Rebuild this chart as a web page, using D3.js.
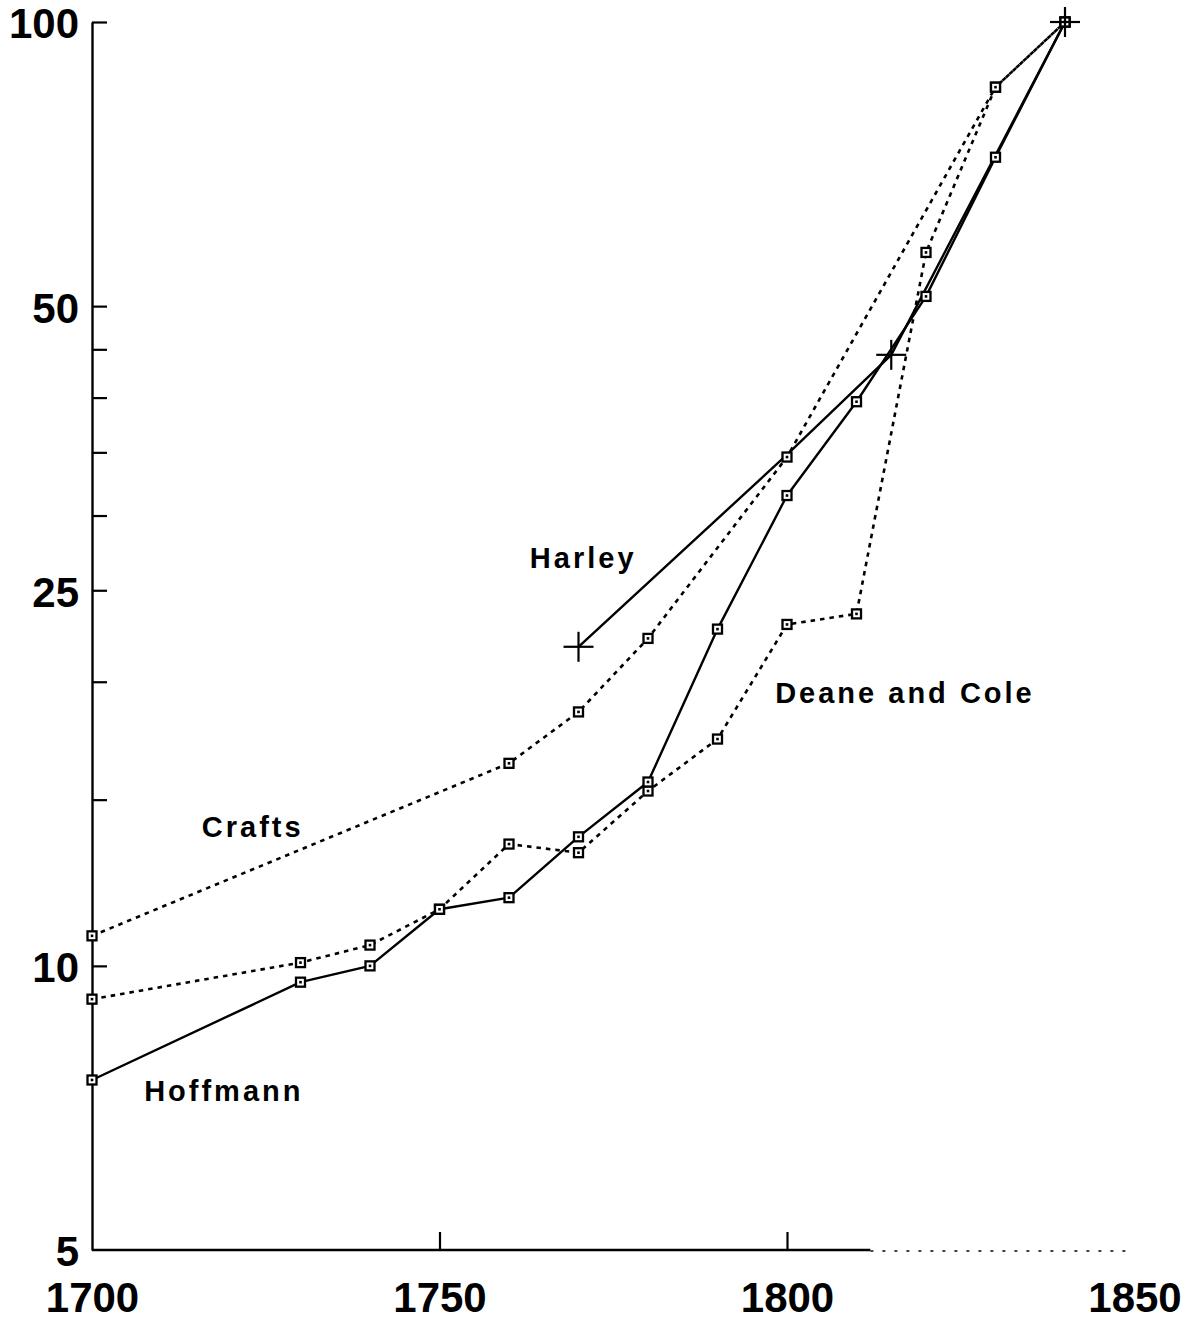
<!DOCTYPE html>
<html>
<head>
<meta charset="utf-8">
<script src="https://cdn.jsdelivr.net/npm/d3@7"></script>
<style>
  html, body { margin: 0; padding: 0; background: #fff; }
  svg { display: block; }
  text { font-family: "Liberation Sans", Arial, Helvetica, sans-serif; font-weight: bold; fill: #000; }
</style>
</head>
<body>
<svg id="chart" width="1186" height="1327"></svg>
<script>
// ---- data ----
const hoffmannYears  = [1700, 1730, 1740, 1750, 1760, 1770, 1780, 1790, 1800, 1810, 1820, 1830, 1840];
const hoffmannValues = [7.57, 9.61, 10.0, 11.48, 11.81, 13.7, 15.66, 22.74, 31.5, 39.6, 51.2, 71.9, 100];

const deaneColeYears  = [1700, 1730, 1740, 1750, 1760, 1770, 1780, 1790, 1800, 1810, 1820, 1830, 1840];
const deaneColeValues = [9.22, 10.08, 10.52, 11.48, 13.46, 13.18, 15.32, 17.39, 23.0, 23.6, 57.0, 85.3, 100];

const craftsYears  = [1700, 1760, 1770, 1780, 1800, 1830, 1840];
const craftsValues = [10.76, 16.39, 18.58, 22.23, 34.6, 85.3, 100];

const harleyYears  = [1770, 1800, 1815, 1840];
const harleyValues = [21.78, 34.8, 44.4, 100];
const harleyMarked = [true, false, true, true];

const yTickValues  = [100, 50, 45, 40, 35, 30, 25, 20, 15, 10, 5];
const yTickLabels  = [100, 50, 25, 10, 5];
const xTickValues  = [1700, 1750, 1800, 1850];

const seriesLabels = ["Harley", "Deane and Cole", "Crafts", "Hoffmann"];

// ---- layout ----
const svg = d3.select("#chart");
const x = d3.scaleLinear().domain([1700, 1850]).range([92, 1134.5]);
const y = d3.scaleLog().domain([5, 100]).range([1250, 22]);

// y axis
const yAxis = d3.axisLeft(y)
  .tickValues(yTickValues)
  .tickSizeInner(-15)
  .tickSizeOuter(0)
  .tickPadding(13)
  .tickFormat(d => yTickLabels.includes(d) ? String(d) : "");
const gy = svg.append("g").attr("transform", `translate(${x(1700)},0)`).call(yAxis);
gy.select(".domain").attr("stroke", "#000").attr("stroke-width", 2.4);
gy.selectAll(".tick line").attr("stroke", "#000").attr("stroke-width", 2.2)
  .filter(d => d === 5).remove();
gy.selectAll(".tick text").style("font-size", "42px").attr("dy", "0.38em");

// x axis
const xAxis = d3.axisBottom(x)
  .tickValues(xTickValues)
  .tickSizeInner(-18)
  .tickSizeOuter(0)
  .tickPadding(32)
  .tickFormat(d3.format("d"));
const gx = svg.append("g").attr("transform", `translate(0,${y(5)})`).call(xAxis);
gx.select(".domain").remove();
gx.selectAll(".tick line").attr("stroke", "#000").attr("stroke-width", 2.2)
  .filter(d => d === 1700 || d === 1850).remove();
gx.selectAll(".tick text").style("font-size", "42px");

// x baseline: solid part, then the faded (scan-worn) right part
svg.append("line")
  .attr("x1", x(1700)).attr("x2", x(1812))
  .attr("y1", y(5)).attr("y2", y(5))
  .attr("stroke", "#000").attr("stroke-width", 2.4);
svg.append("line")
  .attr("x1", x(1812)).attr("x2", x(1849.4))
  .attr("y1", y(5) + 1).attr("y2", y(5) + 1)
  .attr("stroke", "#444").attr("stroke-width", 1.8)
  .attr("stroke-dasharray", "3,9");

// ---- series ----
const line = d3.line().x(d => x(d[0])).y(d => y(d[1]));
const zipS = (xs, vs) => xs.map((v, i) => [v, vs[i]]);

const series = [
  { pts: zipS(craftsYears, craftsValues), dash: "4.5,5" },
  { pts: zipS(deaneColeYears, deaneColeValues), dash: "4.5,5" },
  { pts: zipS(hoffmannYears, hoffmannValues), dash: null },
  { pts: zipS(harleyYears, harleyValues), dash: null }
];

series.forEach(s => {
  svg.append("path")
    .datum(s.pts)
    .attr("d", line)
    .attr("fill", "none")
    .attr("stroke", "#000")
    .attr("stroke-width", s.dash ? 2.6 : 2.4)
    .attr("stroke-linejoin", "round")
    .attr("stroke-dasharray", s.dash);
});

// square markers
const squarePts = [
  ...zipS(craftsYears, craftsValues),
  ...zipS(deaneColeYears, deaneColeValues),
  ...zipS(hoffmannYears, hoffmannValues)
];
const mk = svg.append("g");
squarePts.forEach(p => {
  const cx = x(p[0]), cy = y(p[1]);
  mk.append("rect")
    .attr("x", cx - 4.5).attr("y", cy - 4.5)
    .attr("width", 9).attr("height", 9)
    .attr("fill", "#fff").attr("stroke", "#000").attr("stroke-width", 2.3);
  mk.append("rect")
    .attr("x", cx - 1.3).attr("y", cy - 1.3)
    .attr("width", 2.6).attr("height", 2.6)
    .attr("fill", "#000");
});

// Harley crosses
zipS(harleyYears, harleyValues).forEach((p, i) => {
  if (!harleyMarked[i]) return;
  const cx = x(p[0]), cy = y(p[1]);
  mk.append("line").attr("x1", cx - 15).attr("x2", cx + 15).attr("y1", cy).attr("y2", cy)
    .attr("stroke", "#000").attr("stroke-width", 2.2);
  mk.append("line").attr("x1", cx).attr("x2", cx).attr("y1", cy - 15).attr("y2", cy + 15)
    .attr("stroke", "#000").attr("stroke-width", 2.2);
});

// ---- series labels (anchored in data units) ----
const labelAnchors = [
  [1763.0, 26.4],
  [1798.3, 18.98],
  [1715.8, 13.69],
  [1707.5, 7.19]
];
seriesLabels.forEach((t, i) => {
  svg.append("text")
    .attr("x", x(labelAnchors[i][0]))
    .attr("y", y(labelAnchors[i][1]))
    .style("font-size", "29px")
    .style("letter-spacing", "3px")
    .text(t);
});
</script>
</body>
</html>
